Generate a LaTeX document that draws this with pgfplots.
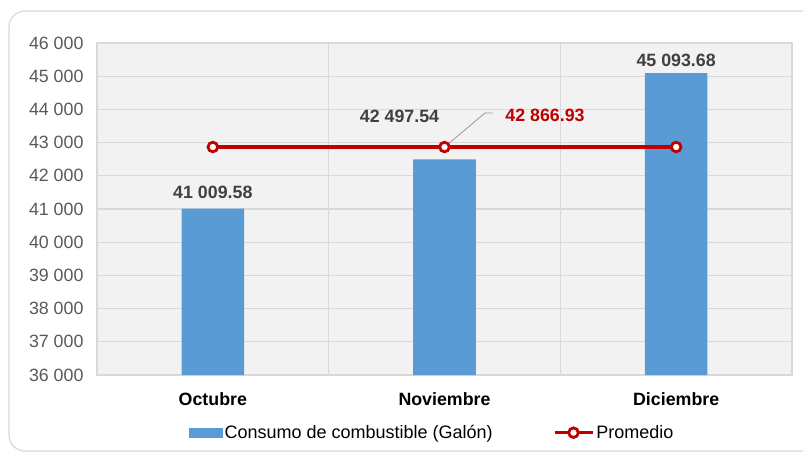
\documentclass[border=0pt]{standalone}
\usepackage{fontspec}
\setmainfont{Liberation Sans}
\usepackage{pgfplots}
\usepackage{pgfplotstable}
\pgfplotsset{compat=1.18}
\definecolor{barblue}{HTML}{5B9BD5}
\definecolor{avgred}{HTML}{C00000}
\definecolor{gridgray}{HTML}{D9D9D9}
\definecolor{ticktext}{HTML}{595959}
\definecolor{labtext}{HTML}{404040}
\definecolor{plotbg}{HTML}{F2F2F2}
\pgfplotstableread{
x y lab dx dy
0 41009.58 {41 009.58} 0 6
1 42497.54 {42 497.54} -45 33
2 45093.68 {45 093.68} 0 3
}\bars
\begin{document}
\begin{tikzpicture}[font=\fontsize{17.8}{21}\selectfont]
\useasboundingbox (-97pt,-78pt) rectangle (706pt,375pt);
\draw[gridgray, line width=1.2pt, rounded corners=16pt] (-88pt,-76pt) rectangle (730pt,364pt);
\begin{axis}[
  at={(0pt,0pt)}, anchor=south west,
  scale only axis, width=695pt, height=332pt,
  xmin=-0.5, xmax=2.5, ymin=36000, ymax=46000,
  ytick={36000,37000,...,46000},
  xtick={0,1,2}, xticklabels={Octubre,Noviembre,Diciembre},
  minor xtick={0.5,1.5},
  ymajorgrids, xminorgrids,
  major tick length=0pt, minor tick length=0pt,
  grid style={gridgray, line width=1.2pt},
  minor grid style={gridgray, line width=1.2pt},
  axis line style={gridgray, line width=1.2pt},
  axis background/.style={fill=plotbg},
  scaled y ticks=false,
  yticklabel={\pgfmathprintnumber[fixed,precision=0,1000 sep={\ },assume math mode=true]{\tick}},
  yticklabel style={text=ticktext, xshift=-10pt},
  xticklabel style={font=\fontsize{17.8}{21}\selectfont\bfseries, text=black, yshift=-14pt},
  clip=false,
  legend columns=2,
  legend style={at={(0.482,-0.1737)}, anchor=center, draw=none, fill=none,
    font=\fontsize{18}{21}\selectfont, text=black,
    /tikz/every even column/.append style={column sep=58pt},
    nodes={inner sep=2pt}},
]
\addplot[draw=none, fill=barblue, ybar, bar width=0.27, bar shift=0pt,
  nodes near coords, point meta=explicit symbolic,
  visualization depends on={\thisrow{dx} \as \dx},
  visualization depends on={\thisrow{dy} \as \dy},
  every node near coord/.append style={xshift=\dx pt, yshift=\dy pt,
    font=\fontsize{17.8}{21}\selectfont\bfseries, text=labtext},
  legend image code/.code={\fill[barblue] (0pt,-5pt) rectangle (34pt,5pt);}
] table[x=x, y=y, meta=lab] {\bars};
\addlegendentry{Consumo de combustible (Galón)}
\draw[gray!80, line width=0.8pt] (axis cs:1,42866.93) -- (axis cs:1.175,43892) -- (axis cs:1.208,43892);
\addplot[avgred, line width=3.5pt, mark=*, mark size=4.8pt,
  mark options={fill=white, draw=avgred, line width=2.8pt},
  legend image code/.code={\draw[avgred, line width=3.5pt] (0pt,0pt) -- (38pt,0pt);
    \draw[avgred, fill=white, line width=2.8pt] (19pt,0pt) circle (4.8pt);}
] coordinates {(0,42866.93) (1,42866.93) (2,42866.93)};
\addlegendentry{Promedio}
\node[text=avgred, font=\fontsize{17.8}{21}\selectfont\bfseries] at (axis cs:1.434,43831) {42 866.93};
\end{axis}
\end{tikzpicture}
\end{document}
